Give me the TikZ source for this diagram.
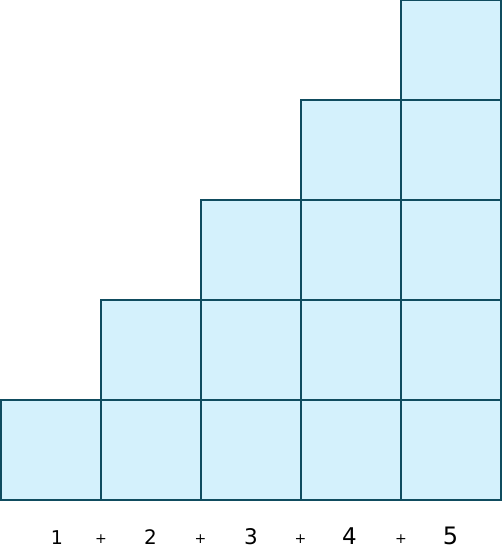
\documentclass[tikz,border=0pt]{standalone}
\usepackage{fontspec}
\setmainfont{DejaVu Sans}
\definecolor{boxfill}{HTML}{D4F1FC}
\definecolor{boxline}{HTML}{0F4C5F}
\begin{document}
\begin{tikzpicture}[x=1pt,y=-1pt,
  cell/.style={draw=boxline,fill=boxfill,line width=2.2pt,minimum size=100pt,inner sep=0pt,outer sep=0pt},
  num/.style={anchor=base,inner sep=0pt,text=black},
  plus/.style={inner sep=0pt,font=\fontsize{14}{14}\selectfont,text=black}]
\useasboundingbox (0,0) rectangle (502,550);
\foreach \c in {0,...,4}{
  \foreach \r in {0,...,\c}{
    \node[cell] (c\c r\r) at ({51+100*\c},{450-100*\r}) {};
  }
}
\node[num,font=\fontsize{19}{19}\selectfont] (n1) at (57,544) {1};
\node[num,font=\fontsize{20}{20}\selectfont] (n2) at (150.5,544) {2};
\node[num,font=\fontsize{21.5}{21.5}\selectfont] (n3) at (251,544.5) {3};
\node[num,font=\fontsize{23}{23}\selectfont] (n4) at (349.5,544) {4};
\node[num,font=\fontsize{24}{24}\selectfont] (n5) at (450.5,544) {5};
\node[plus] (p1) at (101,539.5) {+};
\node[plus] (p2) at (200.5,539.5) {+};
\node[plus] (p3) at (300.5,539.5) {+};
\node[plus] (p4) at (401,539.5) {+};
\end{tikzpicture}
\end{document}
